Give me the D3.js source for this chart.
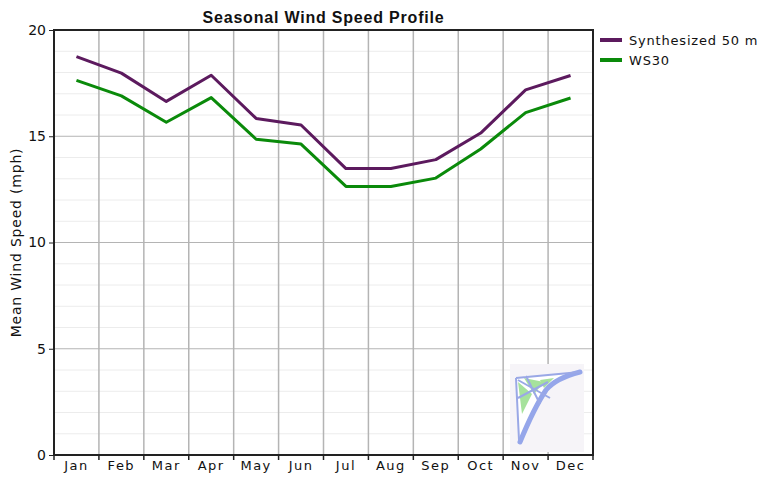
<!DOCTYPE html>
<html lang="en">
<head>
  <meta charset="UTF-8">
  <title>Seasonal Wind Speed Profile</title>
  <script src="https://d3js.org/d3.v7.min.js"></script>
  <style>
    body { margin: 0; background: #fff; font-family: "Liberation Sans", Arial, sans-serif; }
  </style>
</head>
<body>
<svg id="chart" width="762" height="479"></svg>
<script>
// Data
const months = ["Jan", "Feb", "Mar", "Apr", "May", "Jun", "Jul", "Aug", "Sep", "Oct", "Nov", "Dec"];
const synth50 = [18.75, 17.97, 16.64, 17.87, 15.84, 15.53, 13.48, 13.48, 13.9, 15.15, 17.18, 17.86];
const ws30 = [17.63, 16.9, 15.66, 16.82, 14.86, 14.63, 12.64, 12.64, 13.03, 14.4, 16.11, 16.8];
const seriesNames = ["Synthesized 50 m", "WS30"];
const seriesColors = ["#5c1a5e", "#0a8a0a"];
const yTicks = [0, 5, 10, 15, 20];

const svg = d3.select("#chart");
const margin = { top: 30, right: 169, bottom: 24, left: 54 };
const width = 762, height = 479;

const x = d3.scaleBand().domain(months).range([margin.left, width - margin.right]).padding(0);
const y = d3.scaleLinear().domain([0, 20]).range([height - margin.bottom, margin.top]);

// minor grid
svg.append("g")
  .selectAll("line")
  .data(d3.range(1, 20).filter(v => v % 5 !== 0))
  .join("line")
  .attr("x1", margin.left).attr("x2", width - margin.right)
  .attr("y1", d => y(d)).attr("y2", d => y(d))
  .attr("stroke", "#ececec").attr("stroke-width", 1);

// major horizontal grid
svg.append("g")
  .selectAll("line")
  .data([5, 10, 15])
  .join("line")
  .attr("x1", margin.left).attr("x2", width - margin.right)
  .attr("y1", d => y(d)).attr("y2", d => y(d))
  .attr("stroke", "#b4b4b4").attr("stroke-width", 1);

// vertical grid at month boundaries
svg.append("g")
  .selectAll("line")
  .data(months.slice(1))
  .join("line")
  .attr("x1", d => x(d)).attr("x2", d => x(d))
  .attr("y1", margin.top).attr("y2", height - margin.bottom)
  .attr("stroke", "#b4b4b4").attr("stroke-width", 1.5);

// watermark logo (kite)
const logo = svg.append("g").attr("transform", `translate(510,364)`);
logo.append("rect").attr("width", 74).attr("height", 88).attr("fill", "#f6f4f8");
logo.append("path")
  .attr("d", "M6,14 L70,8 Q46,14 36,26 Q24,44 10,78 Z")
  .attr("fill", "#ffffff");
logo.append("path").attr("d", "M8,18 L22,30 L12,50 Z").attr("fill", "#a6e29c");
logo.append("path").attr("d", "M14,14 L34,18 L24,30 Z").attr("fill", "#a6e29c");
logo.append("path").attr("d", "M30,16 L44,14 L34,24 Z").attr("fill", "#a6e29c");
logo.append("path")
  .attr("d", "M70,8 Q46,14 36,26 Q24,44 10,78")
  .attr("fill", "none").attr("stroke", "#95a6ea").attr("stroke-width", 5).attr("stroke-linecap", "round");
logo.append("path")
  .attr("d", "M6,14 L70,8 M6,14 L9,76 M8,16 L40,34 M16,12 L30,40 M8,34 L38,18")
  .attr("fill", "none").attr("stroke", "#9aa8e6").attr("stroke-width", 2);

// lines
const line = d3.line().x((d, i) => x(months[i]) + x.bandwidth() / 2).y(d => y(d));
[synth50, ws30].forEach((s, k) => {
  svg.append("path")
    .datum(s)
    .attr("fill", "none")
    .attr("stroke", seriesColors[k])
    .attr("stroke-width", 3)
    .attr("stroke-linejoin", "round")
    .attr("d", line);
});

// frame
svg.append("rect")
  .attr("x", margin.left).attr("y", margin.top)
  .attr("width", width - margin.right - margin.left)
  .attr("height", height - margin.bottom - margin.top)
  .attr("fill", "none").attr("stroke", "#222").attr("stroke-width", 2);

// y axis
const yAxis = svg.append("g")
  .attr("transform", `translate(${margin.left},0)`)
  .call(d3.axisLeft(y).tickValues(yTicks).tickSize(5).tickPadding(3));
yAxis.select(".domain").remove();
yAxis.selectAll("line").attr("stroke", "#222");
yAxis.selectAll("text").attr("fill", "#111")
  .attr("font-family", "'DejaVu Sans', sans-serif").attr("font-size", 14);

// x axis
const xAxis = svg.append("g")
  .attr("transform", `translate(0,${height - margin.bottom})`)
  .call(d3.axisBottom(x).tickSize(0).tickPadding(6));
xAxis.select(".domain").remove();
xAxis.selectAll("text").attr("font-size", 13).attr("fill", "#111")
  .attr("letter-spacing", 1.5)
  .attr("font-family", "'DejaVu Sans', sans-serif");
svg.append("g")
  .selectAll("line")
  .data(months.concat(["end"]))
  .join("line")
  .attr("x1", d => d === "end" ? width - margin.right : x(d))
  .attr("x2", d => d === "end" ? width - margin.right : x(d))
  .attr("y1", height - margin.bottom).attr("y2", height - margin.bottom + 5)
  .attr("stroke", "#222").attr("stroke-width", 1.5);

// y axis label
svg.append("text")
  .attr("transform", `translate(21,${(margin.top + height - margin.bottom) / 2}) rotate(-90)`)
  .attr("text-anchor", "middle")
  .attr("font-size", 14)
  .attr("letter-spacing", 0.8)
  .attr("font-family", "'DejaVu Sans', sans-serif")
  .attr("fill", "#111")
  .text("Mean Wind Speed (mph)");

// title
svg.append("text")
  .attr("x", (margin.left + width - margin.right) / 2)
  .attr("y", 23)
  .attr("text-anchor", "middle")
  .attr("font-size", 16)
  .attr("letter-spacing", 0.8)
  .attr("font-weight", "bold")
  .attr("fill", "#111")
  .text("Seasonal Wind Speed Profile");

// legend
const legend = svg.append("g").attr("transform", "translate(600,40)");
seriesNames.forEach((name, i) => {
  const g = legend.append("g").attr("transform", `translate(0,${i * 20})`);
  g.append("line").attr("x1", 0).attr("x2", 22).attr("y1", 0).attr("y2", 0)
    .attr("stroke", seriesColors[i]).attr("stroke-width", 4);
  g.append("text").attr("x", 29).attr("y", 5)
    .attr("font-size", 13).attr("fill", "#111")
    .attr("letter-spacing", 0.8)
    .attr("font-family", "'DejaVu Sans', sans-serif")
    .text(name);
});
</script>
</body>
</html>
